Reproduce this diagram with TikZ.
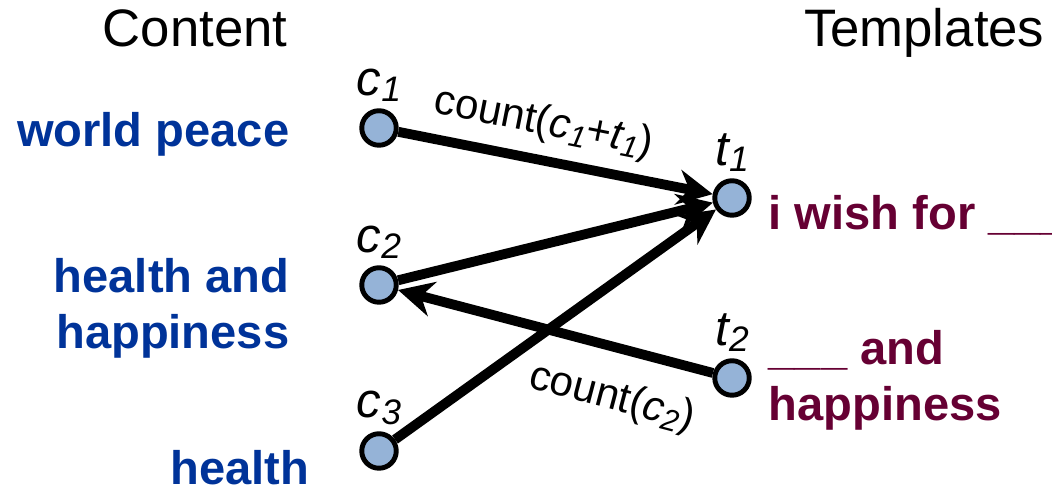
\documentclass[tikz,border=0pt]{standalone}
\usepackage{fontspec}
\setmainfont{Liberation Sans}
\usepackage{xcolor}
\definecolor{CTblue}{HTML}{003399}
\definecolor{CTmaroon}{HTML}{660033}
\definecolor{CTdot}{HTML}{95B3D7}
\usetikzlibrary{arrows.meta, positioning}

\newcommand{\idx}[2]{{\itshape #1\raisebox{-0.25ex}{\scalebox{0.72}{#2}}}}

\begin{document}
\begin{tikzpicture}[
    dot/.style={circle, draw=black, line width=1.4pt, fill=CTdot,
      minimum size=0.345cm, inner sep=0pt},
    lbl/.style={font=\fontsize{14}{16}\selectfont, inner sep=0pt},
    flow/.style={line width=2.8pt, -{Stealth[length=10pt, width=10pt]}},
    cnt/.style={font=\fontsize{12}{14}\selectfont, sloped},
    content/.style={font=\fontsize{13.4}{15.9}\selectfont\bfseries,
      text=CTblue, inner sep=0pt},
    tmpl/.style={font=\fontsize{13.4}{15.9}\selectfont\bfseries,
      text=CTmaroon, inner sep=0pt},
    head/.style={font=\fontsize{15}{18}\selectfont, inner sep=0pt}
  ]
  \useasboundingbox (0,0) rectangle (10.52,4.89);

  % column titles
  \node[head, anchor=base east] (hc) at (2.88,4.42) {Content};
  \node[head, anchor=base east] (ht) at (10.45,4.42) {Templates};

  % content nodes
  \node[dot] (c1) at (3.79,3.61) {};
  \node[dot] (c2) at (3.79,2.04) {};
  \node[dot] (c3) at (3.79,0.38) {};
  \node[lbl, above=0.06 of c1] (lc1) {\idx{c}{1}};
  \node[lbl, above=0.06 of c2] (lc2) {\idx{c}{2}};
  \node[lbl, above=0.06 of c3] (lc3) {\idx{c}{3}};

  % template nodes
  \node[dot] (t1) at (7.32,2.91) {};
  \node[dot] (t2) at (7.32,1.11) {};
  \node[lbl, above=0.06 of t1] (lt1) {\idx{t}{1}};
  \node[lbl, above=0.06 of t2] (lt2) {\idx{t}{2}};

  % texts
  \node[content, anchor=base east] (w1) at (2.90,3.42) {world peace};
  \node[content, anchor=east, align=right] (w2) at (2.90,1.81)
    {health and\\happiness};
  \node[content, anchor=base east] (w3) at (3.10,0.04) {health};
  \node[tmpl, anchor=base west] (p1) at (7.68,2.59) {i wish for \_\_\_};
  \node[tmpl, anchor=west, align=left] (p2) at (7.68,1.09)
    {\_\_\_ and\\happiness};

  % counts
  \draw[flow] (c1) -- (t1)
    node[cnt, pos=0.44, above] {count(\idx{c}{1}+\idx{t}{1})};
  \draw[flow] (c2) -- (t1);
  \draw[flow] (c3) -- (t1);
  \draw[flow] (t2) -- (c2)
    node[cnt, pos=0.28, below, yshift=-4pt] {count(\idx{c}{2})};
\end{tikzpicture}
\end{document}
